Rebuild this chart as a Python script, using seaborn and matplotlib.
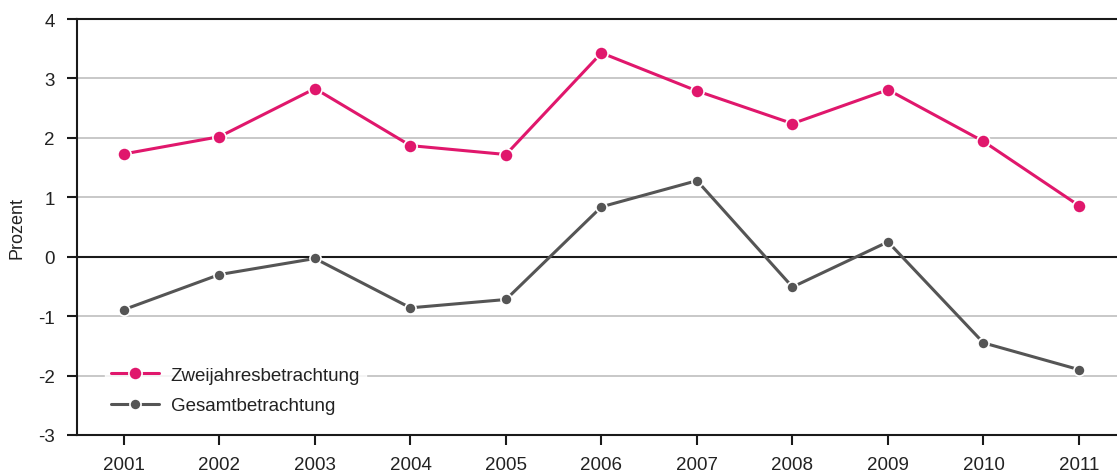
import pandas as pd
import numpy as np
import seaborn as sns
import matplotlib.pyplot as plt

jahre = [2001, 2002, 2003, 2004, 2005, 2006, 2007, 2008, 2009, 2010, 2011]
zweijahres = [1.73, 2.02, 2.83, 1.87, 1.72, 3.43, 2.79, 2.24, 2.81, 1.94, 0.86]
gesamt = [-0.89, -0.30, -0.03, -0.86, -0.72, 0.84, 1.28, -0.51, 0.25, -1.45, -1.90]
serien = ['Zweijahresbetrachtung', 'Gesamtbetrachtung']
farben = ['#e0176c', '#555555']
punktgroesse = [9.5, 8]

df = pd.DataFrame({
    'Jahr': jahre * 2,
    'Wert': zweijahres + gesamt,
    'Serie': [serien[0]] * len(jahre) + [serien[1]] * len(jahre),
})

sns.set_style('white')
plt.rcParams['font.family'] = ['Liberation Sans Narrow', 'Liberation Sans', 'DejaVu Sans']
plt.rcParams['axes.unicode_minus'] = False

fig = plt.figure(figsize=(11.17, 4.77), dpi=100)
ax = fig.add_axes([0.0689, 0.086, 0.9311, 0.872])

for y in [3, 2, 1, -1, -2]:
    ax.axhline(y, color='#c4c4c4', lw=1.3, zorder=0)
ax.axhline(0, color='#1a1a1a', lw=1.5, zorder=1)

for serie, farbe, ms in zip(serien, farben, punktgroesse):
    sns.lineplot(data=df[df['Serie'] == serie], x='Jahr', y='Wert', color=farbe,
                 label=serie, marker='o', markersize=ms, lw=2.2, ax=ax,
                 markeredgecolor='white', markeredgewidth=1.2, zorder=3)

ax.set_xlim(2000.508, 2011.398)
ax.set_ylim(-3, 4)
ax.set_xticks(jahre)
ax.set_xticklabels([str(j) for j in jahre])
ax.set_yticks(range(-3, 5))
ax.set_xlabel('')
ax.set_ylabel('Prozent', fontsize=13, color='#222222', labelpad=9)

for s in ['left', 'top', 'bottom']:
    ax.spines[s].set_visible(True)
    ax.spines[s].set_color('#1a1a1a')
    ax.spines[s].set_linewidth(1.5)
ax.spines['right'].set_visible(False)

ax.tick_params(axis='both', which='both', direction='out', length=7, width=1.5,
               color='#1a1a1a', labelsize=13.5, labelcolor='#222222',
               left=True, bottom=True)
ax.tick_params(axis='x', pad=8)
ax.tick_params(axis='y', pad=9)

leg = ax.legend(loc='upper left', bbox_to_anchor=(0.018, 0.2), frameon=True,
                fontsize=13.5, handlelength=2.6, handletextpad=0.6,
                borderpad=0.3, labelspacing=0.7)
leg.get_frame().set_facecolor('white')
leg.get_frame().set_edgecolor('white')
for t in leg.get_texts():
    t.set_color('#222222')

fig.savefig('out.png', dpi=100)
